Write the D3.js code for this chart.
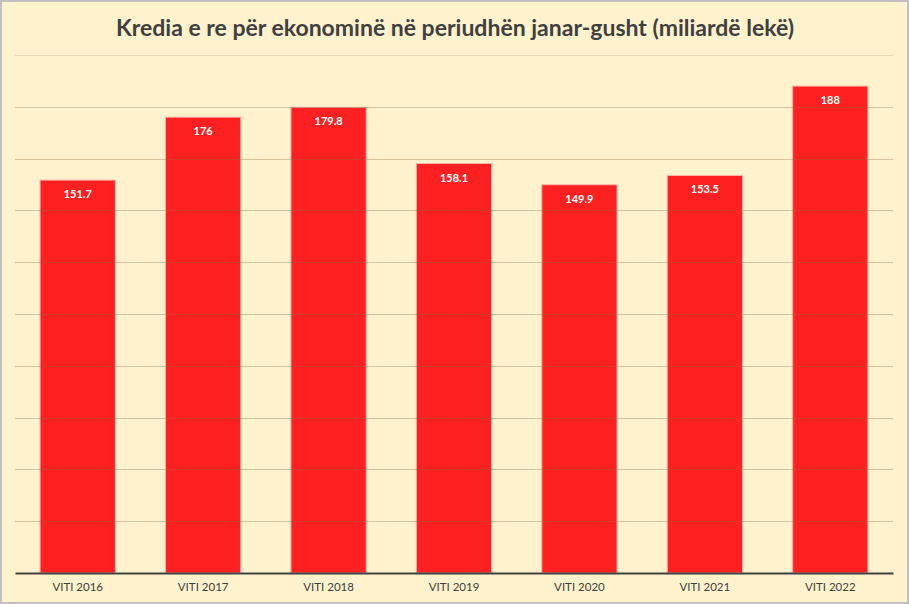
<!DOCTYPE html>
<html>
<head>
<meta charset="utf-8">
<script src="https://cdn.jsdelivr.net/npm/d3@7"></script>
<style>
  body { margin: 0; background: #fff; }
  svg { display: block; }
</style>
</head>
<body>
<svg id="root" width="909" height="604"></svg>
<script>
"use strict";

const categories = ["VITI 2016", "VITI 2017", "VITI 2018", "VITI 2019", "VITI 2020", "VITI 2021", "VITI 2022"];
const values = [151.7, 176, 179.8, 158.1, 149.9, 153.5, 188];
const labels = ["151.7", "176", "179.8", "158.1", "149.9", "153.5", "188"];
const gridTicks = [20, 40, 60, 80, 100, 120, 140, 160, 180, 200];
const title = "Kredia e re për ekonominë në periudhën janar-gusht (miliardë lekë)";

const width = 909, height = 604;
const margin = { left: 15, right: 16, top: 55, bottom: 31 };
const font = "Lato, 'Open Sans', sans-serif";

const svg = d3.select("#root");

// background and frame
svg.append("rect")
  .attr("x", 1).attr("y", 1)
  .attr("width", width - 2).attr("height", height - 2)
  .attr("fill", "#fff2cc")
  .attr("stroke", "#bfbfbf")
  .attr("stroke-width", 2);

const x = d3.scaleBand()
  .domain(categories)
  .range([margin.left, width - margin.right])
  .paddingInner(0.4)
  .paddingOuter(0.2);

const y = d3.scaleLinear()
  .domain([0, 200])
  .range([height - margin.bottom, margin.top]);

// bars
svg.append("g")
  .selectAll("rect")
  .data(values)
  .join("rect")
  .attr("x", (d, i) => x(categories[i]))
  .attr("y", (d) => y(d))
  .attr("width", x.bandwidth())
  .attr("height", (d) => y(0) - y(d))
  .attr("fill", "#ff2121")
  .attr("stroke", "#ffb3a8")
  .attr("stroke-width", 1);

// gridlines drawn over the bars, faint
svg.append("g")
  .selectAll("line")
  .data(gridTicks)
  .join("line")
  .attr("x1", margin.left)
  .attr("x2", width - margin.right)
  .attr("y1", (d) => Math.round(y(d)) + 0.5)
  .attr("y2", (d) => Math.round(y(d)) + 0.5)
  .attr("stroke", (d) => (d === 200 ? "#ead9b4" : "#8b6b3a"))
  .attr("stroke-opacity", (d) => (d === 200 ? 1 : 0.35))
  .attr("stroke-width", 1);

// value labels
svg.append("g")
  .selectAll("text")
  .data(values)
  .join("text")
  .attr("x", (d, i) => x(categories[i]) + x.bandwidth() / 2)
  .attr("y", (d) => y(d) + 18)
  .attr("text-anchor", "middle")
  .attr("fill", "#ffffff")
  .style("font-family", font)
  .style("font-size", "11px")
  .style("font-weight", "bold")
  .text((d, i) => labels[i]);

// x axis
const xAxis = svg.append("g")
  .attr("transform", `translate(0, ${y(0)})`)
  .call(d3.axisBottom(x).tickSize(0).tickPadding(10));
xAxis.select(".domain")
  .attr("stroke", "#404040")
  .attr("stroke-width", 2);
xAxis.selectAll("text")
  .attr("fill", "#404040")
  .style("font-family", font)
  .style("font-size", "11.5px");

// title
svg.append("text")
  .attr("x", 455)
  .attr("y", 36)
  .attr("text-anchor", "middle")
  .attr("fill", "#404040")
  .style("font-family", font)
  .style("font-size", "23px")
  .style("font-weight", "bold")
  .text(title);
</script>
</body>
</html>
